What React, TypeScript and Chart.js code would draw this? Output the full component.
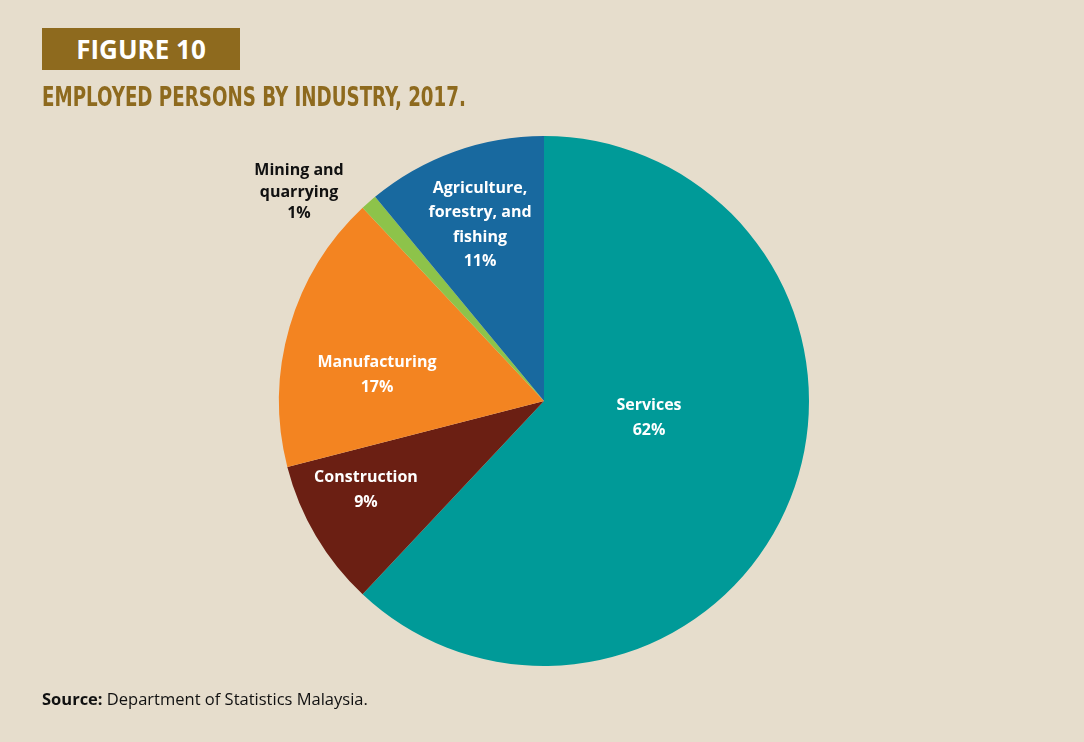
import React, { useEffect, useRef } from "react";
import { Chart, registerables } from "chart.js";

Chart.register(...registerables);

const industries = ["Services", "Construction", "Manufacturing", "Mining and quarrying", "Agriculture, forestry, and fishing"];
const shares = [62, 9, 17, 1, 11];
const labelLines = [["Services"], ["Construction"], ["Manufacturing"], ["Mining and", "quarrying"], ["Agriculture,", "forestry, and", "fishing"]];
const sliceColors = ["#009A98", "#6B1F13", "#F38421", "#8DC34A", "#18699F"];
const labelColors = ["#ffffff", "#ffffff", "#ffffff", "#111111", "#ffffff"];
// label block centre offsets from the pie centre (px) and line spacing
const labelOffsets = [[105, 17], [-178, 89], [-167, -26], [-245, -209], [-64, -176]];
const lineGaps = [24.5, 24.5, 24.5, 21.5, 24.5];

const BG = "#E6DDCC";
const GOLD = "#8E6A1E";

const labelPlugin = {
  id: "sliceLabels",
  afterDatasetsDraw(chart: any) {
    const ctx = chart.ctx;
    const meta = chart.getDatasetMeta(0);
    meta.data.forEach((arc: any, i: number) => {
      const lines = [...labelLines[i], shares[i] + "%"];
      const gap = lineGaps[i];
      const cx = arc.x + labelOffsets[i][0];
      const cy = arc.y + labelOffsets[i][1];
      const top = cy - ((lines.length - 1) * gap) / 2;
      ctx.save();
      ctx.fillStyle = labelColors[i];
      ctx.font = "bold 16px 'Open Sans', sans-serif";
      ctx.textAlign = "center";
      ctx.textBaseline = "middle";
      lines.forEach((t: string, k: number) => ctx.fillText(t, cx, top + k * gap));
      ctx.restore();
    });
  },
};

export default function App() {
  const ref = useRef<HTMLCanvasElement | null>(null);
  useEffect(() => {
    if (!ref.current) return;
    const chart = new Chart(ref.current, {
      type: "pie",
      data: {
        labels: industries,
        datasets: [{ data: shares, backgroundColor: sliceColors, borderWidth: 0 }],
      },
      options: {
        animation: false,
        responsive: false,
        devicePixelRatio: 1,
        layout: { padding: { left: 279, top: 136, right: 275, bottom: 76 } },
        plugins: { legend: { display: false }, tooltip: { enabled: false } },
      },
      plugins: [labelPlugin],
    });
    return () => chart.destroy();
  }, []);

  return (
    <div style={{ position: "absolute", left: 0, top: 0, width: 1084, height: 742, background: BG, overflow: "hidden" }}>
      <canvas ref={ref} width={1084} height={742} style={{ position: "absolute", left: 0, top: 0, width: 1084, height: 742 }} />
      <div
        style={{
          position: "absolute", left: 42, top: 28, width: 198, height: 42, background: GOLD, color: "#fff",
          fontFamily: "'Open Sans', sans-serif", fontWeight: 700, fontSize: 26, lineHeight: "42px", textAlign: "center",
        }}
      >
        FIGURE 10
      </div>
      <div
        style={{
          position: "absolute", left: 42, top: 80, color: GOLD, fontFamily: "'DejaVu Sans Condensed', sans-serif",
          fontWeight: 700, fontSize: 26, lineHeight: "34px", whiteSpace: "nowrap",
          transform: "scaleX(0.78)", transformOrigin: "left center",
        }}
      >
        EMPLOYED PERSONS BY INDUSTRY, 2017.
      </div>
      <div
        style={{
          position: "absolute", left: 42, top: 687, color: "#111", fontFamily: "'Open Sans', sans-serif",
          fontSize: 16.5, lineHeight: "24px", whiteSpace: "nowrap",
        }}
      >
        <b>Source:</b> Department of Statistics Malaysia.
      </div>
    </div>
  );
}
